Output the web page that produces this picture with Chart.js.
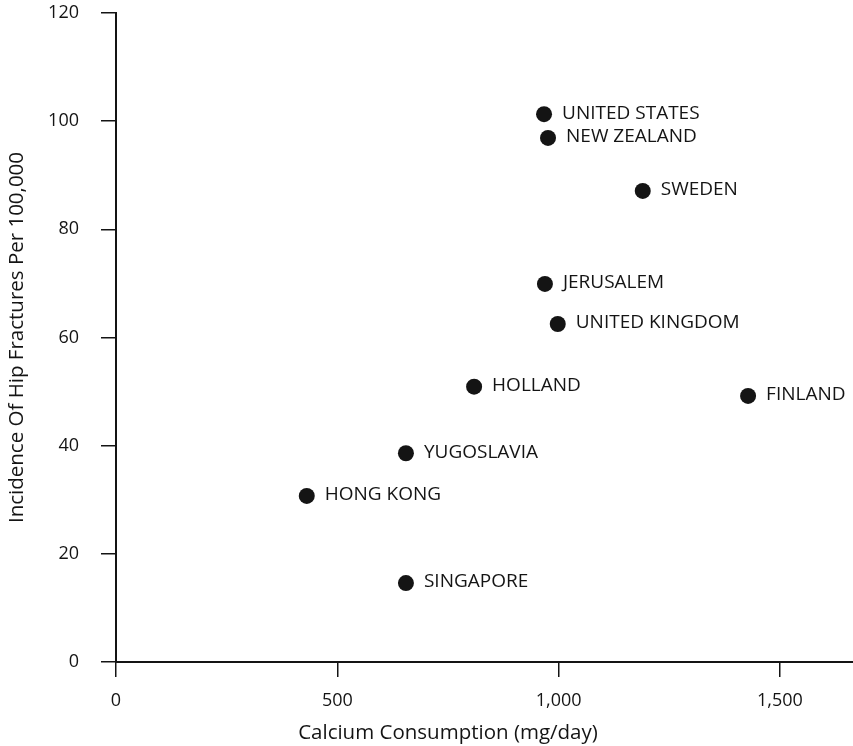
<!DOCTYPE html>
<html>
<head>
<meta charset="utf-8">
<script src="https://cdn.jsdelivr.net/npm/chart.js@4"></script>
<style>
  html, body { margin: 0; padding: 0; background: #fff; }
  #wrap { width: 853px; height: 746px; }
</style>
</head>
<body>
<div id="wrap"><canvas id="calciumChart" width="853" height="746"></canvas></div>
<script>
// countries and their values
const countries = ['UNITED STATES', 'NEW ZEALAND', 'SWEDEN', 'JERUSALEM', 'UNITED KINGDOM',
    'HOLLAND', 'FINLAND', 'YUGOSLAVIA', 'HONG KONG', 'SINGAPORE'];
const calcium = [967, 976, 1190, 969, 998, 809, 1428, 655, 431, 655];
const fractures = [101.3, 96.9, 87.1, 69.9, 62.5, 50.9, 49.2, 38.6, 30.7, 14.6];
const xTicks = [0, 500, 1000, 1500];
const yTicks = [0, 20, 40, 60, 80, 100, 120];
const xTitle = 'Calcium Consumption (mg/day)';
const yTitle = 'Incidence Of Hip Fractures Per 100,000';

const FONT = "'Open Sans', sans-serif";
const INK = '#141414';

// country names next to the dots, and the x title centred over the tick range
const pointLabels = {
    id: 'pointLabels',
    afterDatasetsDraw(chart) {
        const { ctx } = chart;
        const meta = chart.getDatasetMeta(0);
        ctx.save();
        ctx.font = '19px ' + FONT;
        ctx.fillStyle = INK;
        ctx.textAlign = 'left';
        ctx.textBaseline = 'middle';
        meta.data.forEach((pt, i) => {
            ctx.fillText(countries[i], pt.x + 18, pt.y - 1);
        });

        const x = chart.scales.x;
        const mid = (x.getPixelForValue(xTicks[0]) + x.getPixelForValue(xTicks[xTicks.length - 1])) / 2;
        ctx.font = '20.5px ' + FONT;
        ctx.textAlign = 'center';
        ctx.fillText(xTitle, mid, x.bottom - 13);
        ctx.restore();
    }
};

new Chart(document.getElementById('calciumChart').getContext('2d'), {
    type: 'scatter',
    data: {
        datasets: [{
            label: 'Hip fractures',
            data: calcium.map((c, i) => ({ x: c, y: fractures[i] })),
            backgroundColor: INK,
            borderColor: INK,
            borderWidth: 0,
            pointRadius: 8,
            pointHoverRadius: 8
        }]
    },
    options: {
        responsive: false,
        animation: false,
        layout: { autoPadding: false, padding: { top: 13, right: 0, left: 0, bottom: 0 } },
        plugins: {
            legend: { display: false },
            tooltip: { enabled: false }
        },
        scales: {
            x: {
                type: 'linear',
                min: 0,
                max: 1665,
                afterBuildTicks: (s) => { s.ticks = xTicks.map(v => ({ value: v })); },
                afterFit: (s) => { s.height = 84; s.paddingRight = 0; s.paddingLeft = 0; },
                border: { color: INK, width: 2 },
                grid: { drawOnChartArea: false, tickLength: 15, color: INK, lineWidth: 1.5 },
                ticks: {
                    color: INK,
                    padding: 13,
                    maxRotation: 0,
                    font: { family: FONT, size: 18 },
                    callback: (v) => v.toLocaleString('en-US')
                },
                title: { display: false }
            },
            y: {
                type: 'linear',
                min: 0,
                max: 120,
                afterBuildTicks: (s) => { s.ticks = yTicks.map(v => ({ value: v })); },
                afterFit: (s) => { s.width = 116; s.paddingTop = 0; s.paddingBottom = 0; },
                border: { color: INK, width: 2 },
                grid: { drawOnChartArea: false, tickLength: 15, color: INK, lineWidth: 1.5 },
                ticks: {
                    color: INK,
                    padding: 22,
                    font: { family: FONT, size: 18 }
                },
                title: {
                    display: true,
                    text: yTitle,
                    color: INK,
                    font: { family: FONT, size: 20.5 },
                    padding: { top: 5, bottom: 0 }
                }
            }
        }
    },
    plugins: [pointLabels]
});
</script>
</body>
</html>
